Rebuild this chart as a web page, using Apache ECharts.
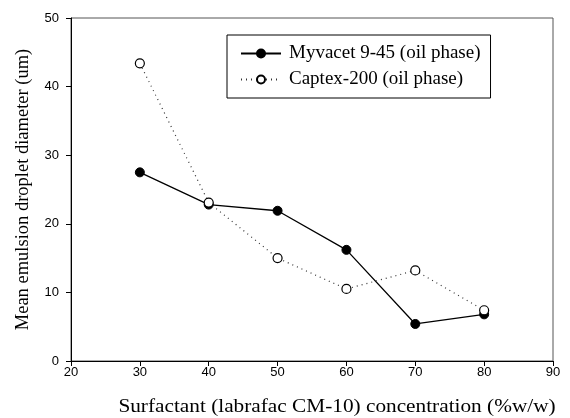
<!DOCTYPE html>
<html>
<head>
<meta charset="utf-8">
<script src="https://cdn.jsdelivr.net/npm/echarts@6/dist/echarts.min.js"></script>
<style>html,body{margin:0;padding:0;background:#fff}#c{width:570px;height:418px}</style>
</head>
<body>
<div id="c"></div>
<script>
const concentration = [30, 40, 50, 60, 70, 80];
const myvacet = [27.5, 22.8, 21.9, 16.2, 5.4, 6.8];
const captex = [43.4, 23.1, 15.0, 10.5, 13.2, 7.4];
const seriesNames = ['Myvacet 9-45 (oil phase)', 'Captex-200 (oil phase)'];
const xTitle = 'Surfactant (labrafac CM-10) concentration (%w/w)';
const yTitle = 'Mean emulsion droplet diameter (um)';

const serif = '"Liberation Serif", "Times New Roman", serif';
const sans = '"Liberation Sans", Arial, sans-serif';

const chart = echarts.init(document.getElementById('c'), null, {renderer: 'canvas'});
chart.setOption({
  animation: false,
  backgroundColor: '#fff',
  grid: {left: 71, right: 17, top: 18, bottom: 57, show: true, borderColor: '#555', borderWidth: 1},
  legend: {
    left: 227, top: 35, orient: 'vertical',
    padding: [8, 10, 8, 13], itemGap: 5, itemWidth: 40, itemHeight: 10,
    borderColor: '#000', borderWidth: 1, backgroundColor: '#fff',
    textStyle: {fontFamily: serif, fontSize: 19, lineHeight: 21, color: '#000', padding: [0, 0, 0, 3]},
    data: seriesNames
  },
  graphic: [{
    type: 'text', x: 337, y: 407, scaleX: 1.12, originX: 0, originY: 0,
    style: {text: xTitle, fontFamily: serif, fontSize: 19, fill: '#000', align: 'center', verticalAlign: 'middle'}
  }],
  xAxis: {
    type: 'value', min: 20, max: 90, interval: 10,
    axisLine: {lineStyle: {color: '#000', width: 1}},
    axisTick: {inside: false, length: 5, lineStyle: {color: '#000'}},
    axisLabel: {fontFamily: sans, fontSize: 13, color: '#000', margin: 5},
    splitLine: {show: false}
  },
  yAxis: {
    type: 'value', min: 0, max: 50, interval: 10,
    name: yTitle, nameLocation: 'middle', nameGap: 38,
    nameTextStyle: {fontFamily: serif, fontSize: 18.5, color: '#000'},
    axisLine: {show: true, lineStyle: {color: '#000', width: 1}},
    axisTick: {show: true, inside: false, length: 5, lineStyle: {color: '#000'}},
    axisLabel: {fontFamily: sans, fontSize: 13, color: '#000', margin: 12},
    splitLine: {show: false}
  },
  series: [
    {
      name: seriesNames[0], type: 'line',
      data: concentration.map((x, i) => [x, myvacet[i]]),
      symbol: 'circle', symbolSize: 9,
      itemStyle: {color: '#000', borderColor: '#000', borderWidth: 1},
      lineStyle: {color: '#000', width: 1.3, type: 'solid'},
      z: 3
    },
    {
      name: seriesNames[1], type: 'line',
      data: concentration.map((x, i) => [x, captex[i]]),
      symbol: 'circle', symbolSize: 9,
      itemStyle: {color: '#fff', borderColor: '#000', borderWidth: 1.2},
      lineStyle: {color: '#333', width: 1.2, type: [1, 4]},
      z: 4
    }
  ]
});
</script>
</body>
</html>
